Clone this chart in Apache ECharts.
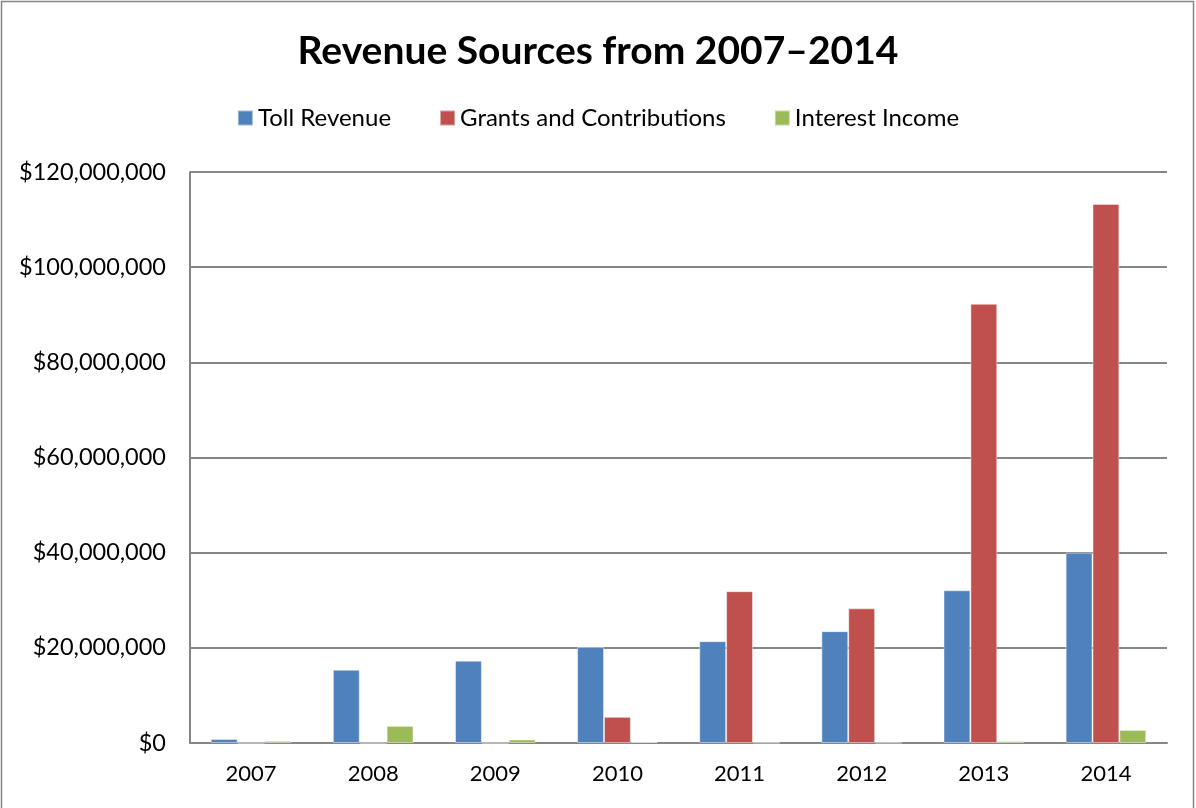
<!DOCTYPE html>
<html>
<head>
<meta charset="utf-8">
<script src="https://cdn.jsdelivr.net/npm/echarts@6/dist/echarts.min.js"></script>
<style>
html,body{margin:0;padding:0;background:#fff;}
#chart{width:1196px;height:808px;}
</style>
</head>
<body>
<div id="chart"></div>
<script>
const categories = ['2007','2008','2009','2010','2011','2012','2013','2014'];
const tollRevenue = [850000, 15400000, 17300000, 20200000, 21400000, 23500000, 32100000, 40000000];
const grantsContributions = [0, 0, 0, 5500000, 31900000, 28300000, 92300000, 113300000];
const interestIncome = [450000, 3600000, 750000, 200000, 80000, 60000, 400000, 2750000];
const yTicks = [0, 20000000, 40000000, 60000000, 80000000, 100000000, 120000000];

const FONT = 'Lato, "Open Sans", sans-serif';
const chart = echarts.init(document.getElementById('chart'), null, {renderer:'canvas'});
function money(v){ return '$' + Math.round(v).toString().replace(/\B(?=(\d{3})+(?!\d))/g, ','); }
const barStyle = (c) => ({color:c, borderColor:'rgba(255,255,255,0.45)', borderWidth:1});
chart.setOption({
  animation:false,
  backgroundColor:'#fff',
  graphic:[{type:'rect', shape:{x:1.5,y:1.5,width:1192,height:820}, style:{fill:'none', stroke:'#868686', lineWidth:1.5}, silent:true}],
  title:{text:'Revenue Sources from 2007\u20132014', left:'center', top:27,
    textStyle:{fontFamily:FONT, fontWeight:'bold', fontSize:39, color:'#000'}},
  legend:{top:101, left:'center', itemWidth:15, itemHeight:15, itemGap:48, icon:'rect',
    textStyle:{fontFamily:FONT, fontSize:24, color:'#000', padding:[0,0,0,0]},
    data:['Toll Revenue','Grants and Contributions','Interest Income']},
  grid:{left:190, right:29, top:172, bottom:65, containLabel:false},
  xAxis:{type:'category', data:categories,
    axisLine:{lineStyle:{color:'#868686', width:2}}, axisTick:{show:false},
    axisLabel:{fontFamily:FONT, fontSize:22, color:'#000', margin:20}},
  yAxis:{type:'value', min:0, max:120000000, interval:20000000,
    axisLine:{show:true, lineStyle:{color:'#868686', width:2}},
    axisTick:{show:false},
    splitLine:{lineStyle:{color:'#868686', width:2}},
    axisLabel:{fontFamily:FONT, fontSize:23.5, color:'#000', margin:24, formatter:(v)=>money(v)}},
  series:[
    {name:'Toll Revenue', type:'bar', data:tollRevenue, barGap:'0%', barCategoryGap:'34%', itemStyle:barStyle('#4F81BD')},
    {name:'Grants and Contributions', type:'bar', data:grantsContributions, itemStyle:barStyle('#C0504D')},
    {name:'Interest Income', type:'bar', data:interestIncome, itemStyle:barStyle('#9BBB59')}
  ]
});
</script>
</body>
</html>
